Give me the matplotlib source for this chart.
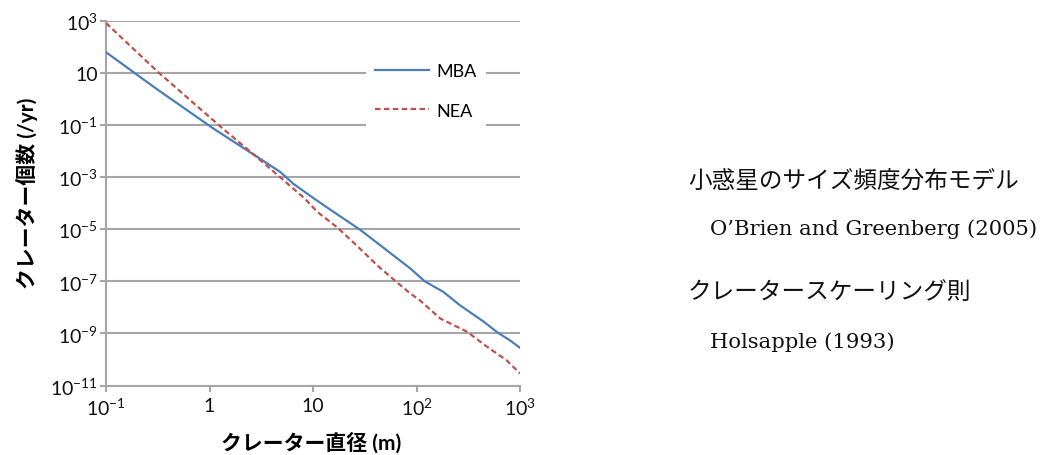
import numpy as np
import matplotlib
matplotlib.use("Agg")
import matplotlib.pyplot as plt
from matplotlib.ticker import FixedLocator, FixedFormatter, NullLocator

plt.rcParams['font.family'] = ['Lato', 'Noto Sans CJK JP', 'DejaVu Sans']
plt.rcParams['mathtext.default'] = 'regular'

# Crater size-frequency model: crater diameter (m) vs. crater count per year
mba_diameter = [0.1, 0.316, 1.10, 2.45, 4.79, 5.62, 6.46, 10.0, 15.8, 28.2,
                44.7, 87.1, 120, 182, 263, 447, 603, 794, 1000]
mba_count = [61.7, 2.24, 7.1e-2, 9.1e-3, 1.6e-3, 9.1e-4, 5.5e-4, 1.6e-4, 4.6e-5,
             9.8e-6, 2.4e-6, 3.1e-7, 1.0e-7, 3.9e-8, 1.2e-8, 2.8e-9, 1.1e-9,
             5.5e-10, 2.8e-10]

nea_diameter = [0.1, 0.316, 1.35, 2.63, 4.79, 8.32, 11.0, 17.0, 26.3, 41.7,
                61.7, 87.1, 107, 170, 309, 479, 741, 1000]
nea_count = [813, 11.0, 7.1e-2, 7.8e-3, 1.0e-3, 1.5e-4, 4.6e-5, 1.2e-5, 2.4e-6,
             4.1e-7, 1.07e-7, 3.4e-8, 1.9e-8, 3.7e-9, 1.15e-9, 3.1e-10,
             9.3e-11, 2.9e-11]

x_ticks = [0.1, 1, 10, 100, 1000]
x_tick_labels = ['$10^{-1}$', '1', '10', '$10^{2}$', '$10^{3}$']
y_ticks = [1e3, 1e1, 1e-1, 1e-3, 1e-5, 1e-7, 1e-9, 1e-11]
y_tick_labels = ['$10^{3}$', '10', '$10^{-1}$', '$10^{-3}$', '$10^{-5}$',
                 '$10^{-7}$', '$10^{-9}$', '$10^{-11}$']

# Source notes beside the chart: (text, left x px, centre y px, font size, families)
jp_family = ['Noto Sans CJK JP', 'DejaVu Sans']
en_family = ['DejaVu Serif', 'Noto Sans CJK JP']
notes = [
    ('小惑星のサイズ頻度分布モデル', 688, 182, 17, jp_family),
    ('O\u2019Brien and Greenberg (2005)', 710, 229, 15.2, en_family),
    ('クレータースケーリング則', 688, 292, 17, jp_family),
    ('Holsapple (1993)', 710, 342, 15.2, en_family),
]

W, H = 1048, 456
fig = plt.figure(figsize=(W / 100, H / 100), dpi=100)
ax = fig.add_axes([106 / W, 1 - 386.5 / H, (520 - 106) / W, (386.5 - 21.7) / H])

grid_color = '#a6a6a6'
ax.plot(mba_diameter, mba_count, color='#4a7ebb', lw=1.6, label='MBA', zorder=3)
ax.plot(nea_diameter, nea_count, color='#c0504d', lw=1.6, ls=(0, (2.5, 1.5)),
        label='NEA', zorder=3)

ax.set_xscale('log')
ax.set_yscale('log')
ax.set_xlim(0.1, 1000)
ax.set_ylim(1e-11, 1e3)

ax.xaxis.set_major_locator(FixedLocator(x_ticks))
ax.xaxis.set_major_formatter(FixedFormatter(x_tick_labels))
ax.xaxis.set_minor_locator(NullLocator())
ax.yaxis.set_major_locator(FixedLocator(y_ticks))
ax.yaxis.set_major_formatter(FixedFormatter(y_tick_labels))
ax.yaxis.set_minor_locator(NullLocator())

ax.grid(axis='y', color=grid_color, lw=1.5, zorder=0)
ax.set_axisbelow(True)
for side in ('top', 'right'):
    ax.spines[side].set_visible(False)
for side in ('left', 'bottom'):
    ax.spines[side].set_color(grid_color)
    ax.spines[side].set_linewidth(1.5)
ax.tick_params(axis='both', which='major', direction='out', length=4,
               width=1.5, color=grid_color, labelsize=14, labelcolor='#111111')
ax.tick_params(axis='x', pad=4)
ax.tick_params(axis='y', pad=2)

leg = ax.legend(loc='center', bbox_to_anchor=(426 / W, 1 - 92 / H),
                bbox_transform=fig.transFigure, frameon=True, fancybox=False,
                fontsize=13, handlelength=3.0, handletextpad=0.4,
                labelspacing=1.3, borderpad=0.5)
leg.get_frame().set_facecolor('white')
leg.get_frame().set_edgecolor('none')
leg.get_frame().set_alpha(1.0)

fig.text(27 / W, 1 - 193.5 / H, 'クレーター個数 (/yr)', rotation=90,
         ha='center', va='center', fontsize=15, fontweight='bold')
fig.text(311 / W, 1 - 443 / H, 'クレーター直径 (m)', ha='center', va='center',
         fontsize=15, fontweight='bold')

for text, x, y, size, family in notes:
    fig.text(x / W, 1 - y / H, text, ha='left', va='center', fontsize=size,
             family=family, color='#111111')

fig.savefig('out.png', dpi=100)
